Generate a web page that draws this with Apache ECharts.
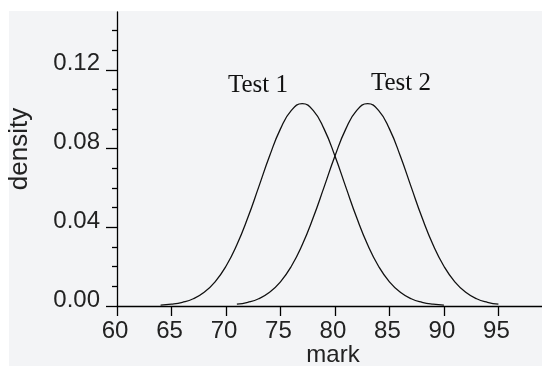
<!DOCTYPE html>
<html><head><meta charset="utf-8">
<script src="https://cdn.jsdelivr.net/npm/echarts@6/dist/echarts.min.js"></script>
<style>
html,body{margin:0;padding:0;background:#fff;}
#panel{position:absolute;left:9px;top:11px;width:533px;height:355px;background:#f3f4f6;}
#chart{position:absolute;left:0;top:0;width:542px;height:366px;}
</style></head><body>
<div id="panel"></div>
<div id="chart"></div>
<script>
// ---- data ----
const seriesNames = ['Test 1', 'Test 2'];
const test1Marks = [64,65,66,67,68,69,70,71,72,73,74,75,76,77,78,79,80,81,82,83,84,85,86,87,88,89,90];
const test1Density = [0.0004,0.0009,0.0019,0.0037,0.0070,0.0123,0.0202,0.0311,0.0448,0.0604,0.0762,0.0900,0.0994,0.1028,0.0994,0.0900,0.0762,0.0604,0.0448,0.0311,0.0202,0.0123,0.0070,0.0037,0.0019,0.0009,0.0004];
const test2Marks = [71,72,73,74,75,76,77,78,79,80,81,82,83,84,85,86,87,88,89,90,91,92,93,94,95];
const test2Density = [0.0009,0.0019,0.0037,0.0070,0.0123,0.0202,0.0311,0.0448,0.0604,0.0762,0.0900,0.0994,0.1028,0.0994,0.0900,0.0762,0.0604,0.0448,0.0311,0.0202,0.0123,0.0070,0.0037,0.0019,0.0009];
const xTicks = [60,65,70,75,80,85,90,95];
const yMajorTicks = [0,0.04,0.08,0.12];
const yMinorTicks = [0.01,0.02,0.03,0.05,0.06,0.07,0.09,0.10,0.11,0.13,0.14];
const xTitle = 'mark';
const yTitle = 'density';
const xMin = 60, xMax = 99, yMin = 0, yMax = 0.1494;

const chart = echarts.init(document.getElementById('chart'), null, {renderer: 'canvas'});
const sans = 'Liberation Sans';
const lineCol = '#111';

function pairs(xs, ys) { return xs.map((x, i) => [x, ys[i]]); }

chart.setOption({
  backgroundColor: 'transparent',
  animation: false,
  grid: {left: 117, right: 0, top: 12, bottom: 60, containLabel: false, outerBoundsMode: 'none'},
  xAxis: {
    type: 'value', min: xMin, max: xMax,
    axisLine: {onZero: false, lineStyle: {color: '#000', width: 1.3}},
    axisTick: {customValues: xTicks, length: 10, lineStyle: {color: '#000', width: 1.3}},
    axisLabel: {customValues: xTicks, fontFamily: sans, fontSize: 24, color: '#222', margin: 13, padding: [0, 4, 0, 0]},
    splitLine: {show: false},
    name: xTitle, nameLocation: 'middle', nameGap: 37, nameMoveOverlap: false,
    nameTextStyle: {fontFamily: sans, fontSize: 24, color: '#222', padding: [0, 0, 0, 7]}
  },
  yAxis: [{
    type: 'value', min: yMin, max: yMax, position: 'left',
    axisLine: {show: true, lineStyle: {color: '#000', width: 1.3}},
    axisTick: {show: true, customValues: yMajorTicks, length: 11, lineStyle: {color: '#000', width: 1.3}},
    axisLabel: {customValues: yMajorTicks, formatter: v => v.toFixed(2), fontFamily: sans, fontSize: 24, color: '#222', margin: 17, verticalAlign: 'bottom', lineHeight: 12},
    splitLine: {show: false},
    name: yTitle, nameLocation: 'middle', nameGap: 84, nameMoveOverlap: false,
    nameTextStyle: {fontFamily: sans, fontSize: 26, color: '#222', padding: [0, 0, 0, 20]}
  }, {
    type: 'value', min: yMin, max: yMax, position: 'left',
    axisLine: {show: false},
    axisTick: {show: true, customValues: yMinorTicks, length: 5, lineStyle: {color: '#000', width: 1.3}},
    axisLabel: {show: false},
    splitLine: {show: false}
  }],
  series: [{
    name: seriesNames[0], type: 'line', yAxisIndex: 0,
    data: pairs(test1Marks, test1Density),
    showSymbol: false, smooth: true,
    lineStyle: {color: lineCol, width: 1.3}
  }, {
    name: seriesNames[1], type: 'line', yAxisIndex: 0,
    data: pairs(test2Marks, test2Density),
    showSymbol: false, smooth: true,
    lineStyle: {color: lineCol, width: 1.3}
  }],
  graphic: [
    {type: 'text', left: 228, top: 73, style: {text: seriesNames[0], font: '25px "Liberation Serif"', fill: '#111'}},
    {type: 'text', left: 371, top: 71, style: {text: seriesNames[1], font: '25px "Liberation Serif"', fill: '#111'}}
  ]
});
</script>
</body></html>
